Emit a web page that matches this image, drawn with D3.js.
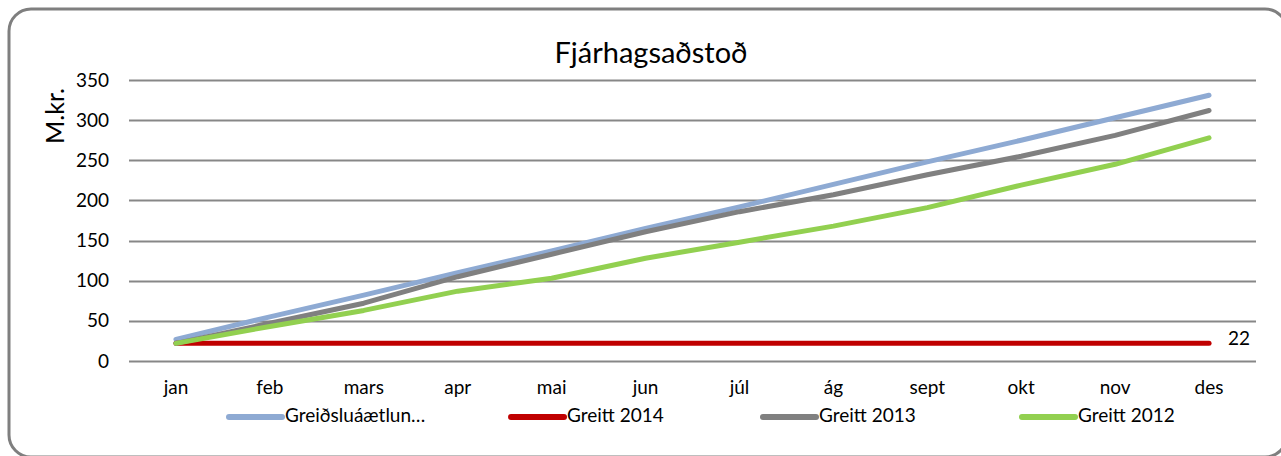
<!DOCTYPE html>
<html>
<head>
<meta charset="utf-8">
<script src="https://cdn.jsdelivr.net/npm/d3@7"></script>
<style>
  html, body { margin: 0; padding: 0; background: #fff; }
  svg { display: block; }
</style>
</head>
<body>
<svg id="chart" width="1281" height="456"></svg>
<script>
// ---- data ------------------------------------------------------
const months = ["jan","feb","mars","apr","mai","jun","júl","ág","sept","okt","nov","des"];
const plan2014  = [27, 55, 82, 110, 137, 165, 192, 220, 248, 275, 303, 331];
const paid2014  = [22, 22, 22, 22, 22, 22, 22, 22, 22, 22, 22, 22];
const paid2013  = [22, 47, 72, 105, 133, 161, 186, 207, 232, 255, 281, 312];
const paid2012  = [22, 43, 63, 87, 103, 128, 148, 168, 191, 219, 245, 278];
const yTicks    = [0, 50, 100, 150, 200, 250, 300, 350];

const series = [
  { name: "Greiðsluáætlun…", values: plan2014, color: "#8eaad3" },
  { name: "Greitt 2014",     values: paid2014, color: "#c00000" },
  { name: "Greitt 2013",     values: paid2013, color: "#808080" },
  { name: "Greitt 2012",     values: paid2012, color: "#92d050" }
];

const font = "Lato, 'Open Sans', sans-serif";
const svg = d3.select("#chart");

// outer frame (runs off the right/bottom edge like the original)
svg.append("rect")
  .attr("x", 9).attr("y", 9)
  .attr("width", 1278).attr("height", 448)
  .attr("rx", 22).attr("ry", 22)
  .attr("fill", "#fff")
  .attr("stroke", "#7f7f7f")
  .attr("stroke-width", 3);

const margin = { top: 80, right: 25, bottom: 95, left: 129 };
const W = 1281, H = 456;

const x = d3.scaleBand().domain(months).range([margin.left, W - margin.right]);
const y = d3.scaleLinear().domain([0, 350]).range([H - margin.bottom, margin.top]);

// gridlines
svg.append("g")
  .selectAll("line")
  .data(yTicks)
  .join("line")
    .attr("x1", margin.left).attr("x2", W - margin.right)
    .attr("y1", d => Math.round(y(d)) + 0.5).attr("y2", d => Math.round(y(d)) + 0.5)
    .attr("stroke", "#878787").attr("stroke-width", 2);

// y axis labels
const yAxis = svg.append("g")
  .attr("transform", `translate(${margin.left - 20},0)`)
  .call(d3.axisLeft(y).tickValues(yTicks).tickSize(0).tickPadding(0));
yAxis.select(".domain").remove();
yAxis.selectAll("text")
  .attr("font-family", font).attr("font-size", 19).attr("fill", "#000");

// x axis labels
const xAxis = svg.append("g")
  .attr("transform", `translate(0,${H - margin.bottom})`)
  .call(d3.axisBottom(x).tickSize(0).tickPadding(20));
xAxis.select(".domain").remove();
xAxis.selectAll("text")
  .attr("font-family", font).attr("font-size", 19).attr("fill", "#000");

// y axis title
svg.append("text")
  .attr("transform", `translate(58,116) rotate(-90)`)
  .attr("text-anchor", "middle")
  .attr("dominant-baseline", "middle")
  .attr("font-family", font).attr("font-size", 25)
  .attr("fill", "#000")
  .text("M.kr.");

// title
svg.append("text")
  .attr("x", 651).attr("y", 63)
  .attr("text-anchor", "middle")
  .attr("font-family", font).attr("font-size", 29)
  .attr("fill", "#000")
  .text("Fjárhagsaðstoð");

// lines
const line = d3.line()
  .x((d, i) => x(months[i]) + x.bandwidth() / 2)
  .y(d => y(d));

svg.append("g")
  .selectAll("path")
  .data(series)
  .join("path")
    .attr("d", d => line(d.values))
    .attr("fill", "none")
    .attr("stroke", d => d.color)
    .attr("stroke-width", 5)
    .attr("stroke-linecap", "round")
    .attr("stroke-linejoin", "round");

// end label for Greitt 2014
const last = months.length - 1;
svg.append("text")
  .attr("x", x(months[last]) + x.bandwidth() / 2 + 19)
  .attr("y", y(paid2014[last]) - 3)
  .attr("font-family", font).attr("font-size", 19)
  .attr("fill", "#000")
  .attr("dominant-baseline", "middle")
  .text(paid2014[last]);

// legend
const legendX = [229, 511, 763, 1022];
const legend = svg.append("g")
  .selectAll("g")
  .data(series)
  .join("g")
    .attr("transform", (d, i) => `translate(${legendX[i]},417)`);
legend.append("line")
  .attr("x1", 0).attr("x2", 53)
  .attr("stroke", d => d.color)
  .attr("stroke-width", 6)
  .attr("stroke-linecap", "round");
legend.append("text")
  .attr("x", 56).attr("y", 0)
  .attr("dominant-baseline", "middle")
  .attr("font-family", font).attr("font-size", 19)
  .attr("fill", "#000")
  .text(d => d.name);
</script>
</body>
</html>
